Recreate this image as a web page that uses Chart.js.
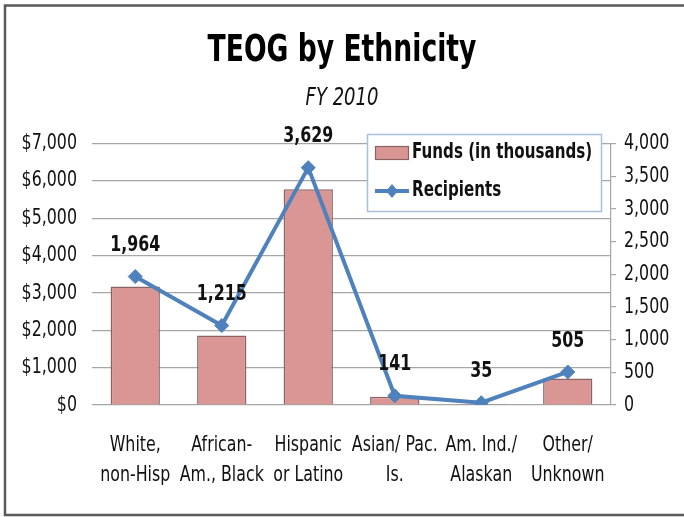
<!DOCTYPE html>
<html>
<head>
<meta charset="utf-8">
<script src="https://cdn.jsdelivr.net/npm/chart.js@4"></script>
<style>
  html, body { margin: 0; padding: 0; background: #ffffff; }
  #wrap { width: 684px; height: 517px; }
</style>
</head>
<body>
<div id="wrap"><canvas id="c" width="684" height="517"></canvas></div>
<script>
// ---- data ----
const categories = [
  ["White,", "non-Hisp"],
  ["African-", "Am., Black"],
  ["Hispanic", "or Latino"],
  ["Asian/ Pac.", "Is."],
  ["Am. Ind./", "Alaskan"],
  ["Other/", "Unknown"]
];
const funds = [3170, 1860, 5770, 220, 30, 710];        // $ thousands
const recipients = [1964, 1215, 3629, 141, 35, 505];
const fundsTicks = [0, 1000, 2000, 3000, 4000, 5000, 6000, 7000];
const recipientTicks = [0, 500, 1000, 1500, 2000, 2500, 3000, 3500, 4000];
const titleText = "TEOG by Ethnicity";
const subtitleText = "FY 2010";
const fundsLabel = "Funds (in thousands)";
const recipientsLabel = "Recipients";

const FONT = "'DejaVu Sans', 'Liberation Sans', sans-serif";
const TEXT = "#111111";
const BAR_FILL = "#D99694";
const BAR_EDGE = "#8a6464";
const LINE = "#4F81BD";
const GRID = "#a6a6a6";
const TEXT_SQUEEZE = 0.72;   // the reference type is a horizontally condensed face

// draw all canvas text horizontally condensed around its anchor point
(function () {
  const proto = CanvasRenderingContext2D.prototype;
  const orig = proto.fillText;
  proto.fillText = function (text, x, y, maxWidth) {
    this.save();
    this.translate(x, y);
    this.scale(TEXT_SQUEEZE, 1);
    if (maxWidth !== undefined && maxWidth !== null) orig.call(this, text, 0, 0, maxWidth / TEXT_SQUEEZE);
    else orig.call(this, text, 0, 0);
    this.restore();
  };
})();

Chart.defaults.font.family = FONT;
Chart.defaults.color = TEXT;

const fmt = v => v.toLocaleString('en-US');

const framePlugin = {
  id: 'frame',
  beforeDraw(chart) {
    const ctx = chart.ctx;
    ctx.save();
    ctx.fillStyle = '#ffffff';
    ctx.fillRect(0, 0, chart.width, chart.height);
    ctx.restore();
  },
  afterDraw(chart) {
    const ctx = chart.ctx;
    ctx.save();
    ctx.strokeStyle = '#5a5a5a';
    ctx.lineWidth = 2.5;
    ctx.beginPath();
    ctx.moveTo(700, 5.5);
    ctx.lineTo(5, 5.5);
    ctx.lineTo(5, 515);
    ctx.lineTo(700, 515);
    ctx.stroke();
    ctx.restore();
  }
};

const legendPlugin = {
  id: 'boxLegend',
  afterDatasetsDraw(chart) {
    const ctx = chart.ctx;
    const ds = chart.data.datasets;
    ctx.save();
    ctx.fillStyle = '#ffffff';
    ctx.fillRect(367.5, 134.5, 234, 77);
    ctx.strokeStyle = '#a9bfdc';
    ctx.lineWidth = 1.5;
    ctx.strokeRect(367.5, 134.5, 234, 77);
    // bar swatch
    ctx.fillStyle = BAR_FILL;
    ctx.fillRect(375.5, 146.5, 33, 13);
    ctx.strokeStyle = BAR_EDGE;
    ctx.lineWidth = 1.2;
    ctx.strokeRect(375.5, 146.5, 33, 13);
    // line swatch
    ctx.strokeStyle = LINE;
    ctx.lineWidth = 4;
    ctx.beginPath();
    ctx.moveTo(375, 191);
    ctx.lineTo(409, 191);
    ctx.stroke();
    ctx.fillStyle = LINE;
    ctx.beginPath();
    ctx.moveTo(392, 184); ctx.lineTo(398, 191); ctx.lineTo(392, 198); ctx.lineTo(386, 191);
    ctx.closePath();
    ctx.fill();
    // text
    ctx.fillStyle = TEXT;
    ctx.font = "bold 21px " + FONT;
    ctx.textAlign = 'left';
    ctx.textBaseline = 'middle';
    ctx.fillText(ds[0].label, 412, 153);
    ctx.fillText(ds[1].label, 412, 191);
    ctx.restore();
  }
};

const valueLabels = {
  id: 'valueLabels',
  afterDatasetsDraw(chart) {
    const ctx = chart.ctx;
    const meta = chart.getDatasetMeta(1);
    const data = chart.data.datasets[1].data;
    ctx.save();
    ctx.fillStyle = TEXT;
    ctx.font = "bold 22px " + FONT;
    ctx.textAlign = 'center';
    ctx.textBaseline = 'middle';
    meta.data.forEach((pt, i) => {
      ctx.fillText(fmt(data[i]), pt.x, pt.y - 31);
    });
    ctx.restore();
  }
};

new Chart(document.getElementById('c'), {
  data: {
    labels: categories,
    datasets: [
      {
        type: 'bar',
        label: fundsLabel,
        data: funds,
        yAxisID: 'y',
        backgroundColor: BAR_FILL,
        borderColor: BAR_EDGE,
        borderWidth: 1.5,
        barPercentage: 0.57,
        categoryPercentage: 1.0,
        order: 2
      },
      {
        type: 'line',
        label: recipientsLabel,
        data: recipients,
        yAxisID: 'y1',
        borderColor: LINE,
        backgroundColor: LINE,
        borderWidth: 4,
        tension: 0,
        pointStyle: 'rectRot',
        pointRadius: 7,
        pointHoverRadius: 7,
        pointBackgroundColor: LINE,
        pointBorderColor: LINE,
        pointBorderWidth: 1,
        order: 1
      }
    ]
  },
  options: {
    responsive: false,
    animation: false,
    layout: { padding: { left: 0, right: 0, top: 0, bottom: 0 } },
    plugins: {
      legend: { display: false },
      tooltip: { enabled: false },
      title: {
        display: true,
        text: titleText,
        color: '#000000',
        font: { size: 37, weight: 'bold', family: FONT, lineHeight: 1.2 },
        padding: { top: 29, bottom: 0 }
      },
      subtitle: {
        display: true,
        text: subtitleText,
        color: TEXT,
        font: { size: 25, style: 'italic', family: FONT, lineHeight: 1.2 },
        padding: { top: 10, bottom: 30 }
      }
    },
    scales: {
      x: {
        grid: { display: false, drawTicks: false },
        border: { display: false },
        ticks: {
          color: TEXT,
          font: { size: 22, family: FONT, lineHeight: 1.36 },
          padding: 25,
          maxRotation: 0,
          autoSkip: false
        },
        afterFit(s) { s.height = 517 - 405; }
      },
      y: {
        position: 'left',
        min: 0,
        max: 7000,
        afterBuildTicks(s) { s.ticks = fundsTicks.map(v => ({ value: v })); },
        grid: { color: GRID, lineWidth: 1.2, drawTicks: false },
        border: { display: false },
        ticks: {
          color: TEXT,
          font: { size: 22, family: FONT },
          padding: 15,
          callback: v => '$' + fmt(v)
        },
        afterFit(s) { s.width = 92; }
      },
      y1: {
        position: 'right',
        min: 0,
        max: 4000,
        afterBuildTicks(s) { s.ticks = recipientTicks.map(v => ({ value: v })); },
        grid: { drawOnChartArea: false, color: GRID, lineWidth: 1.2, tickLength: 5 },
        border: { display: true, color: GRID, width: 1.2 },
        ticks: {
          color: TEXT,
          font: { size: 22, family: FONT },
          padding: 8,
          callback: v => fmt(v)
        },
        afterFit(s) { s.width = 684 - 611; }
      }
    }
  },
  plugins: [framePlugin, legendPlugin, valueLabels]
});
</script>
</body>
</html>
